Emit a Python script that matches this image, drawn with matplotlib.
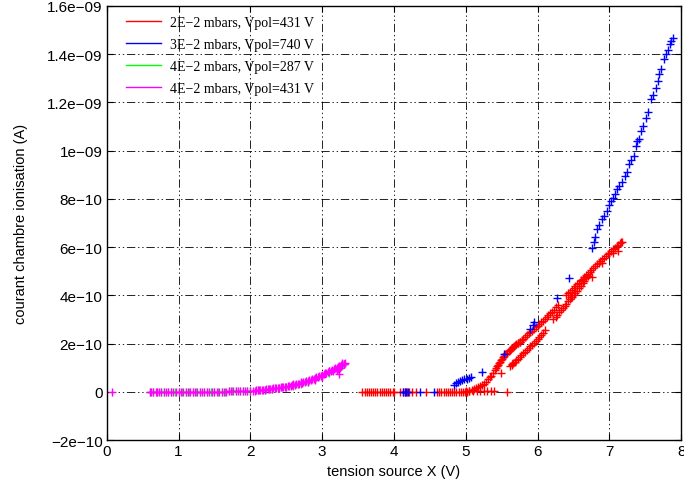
import matplotlib
matplotlib.use("Agg")
import matplotlib.pyplot as plt
from matplotlib.lines import Line2D
from matplotlib.ticker import FixedLocator, FixedFormatter

from matplotlib import rcParams
rcParams['font.family'] = 'Liberation Sans'
rcParams['lines.scale_dashes'] = False

SCALE = 1e-10  # values below are in units of 1e-10 A

# 2E-2 mbars, Vpol=431 V
red_x = [3.56, 3.59, 3.62, 3.65, 3.68, 3.71, 3.74, 3.77, 3.8, 3.83, 3.86, 3.89, 3.92, 3.95, 3.98, 4.0,
         4.09, 4.12, 4.15, 4.18, 4.21, 4.25, 4.3, 4.44,
         4.6, 4.63, 4.66, 4.69, 4.72, 4.75, 4.78, 4.81, 4.84, 4.87, 4.9, 4.93, 4.96, 4.99, 5.02, 5.05,
         5.1, 5.15, 5.2, 5.25, 5.3, 5.35, 5.39, 5.58,
         5.0, 5.04, 5.08, 5.11, 5.14, 5.17, 5.2, 5.23, 5.25, 5.28, 5.31, 5.33, 5.35, 5.38, 5.4, 5.42,
         5.45, 5.47, 5.49, 5.52, 5.55, 5.58, 5.61, 5.64, 5.67, 5.7, 5.73, 5.76,
         5.43, 5.46, 5.5, 5.53, 5.56, 5.6, 5.63, 5.66, 5.69, 5.72, 5.75, 5.78,
         5.8, 5.85, 5.9, 5.95, 6.0, 6.05, 6.1, 6.15, 6.2, 6.25, 6.29,
         5.825, 5.875, 5.925, 5.975, 6.025, 6.075, 6.125, 6.175, 6.225,
         6.4, 6.45, 6.5, 6.55, 6.6, 6.65, 6.7, 6.75, 6.8, 6.85, 6.9, 6.95, 7.0, 7.05, 7.1, 7.15, 7.18,
         6.425, 6.475, 6.525, 6.575, 6.625, 6.675, 6.725, 6.775, 6.825, 6.875, 6.925, 6.975, 7.025,
         7.075, 7.125, 7.16,
         5.62, 5.66, 5.7, 5.75, 5.8, 5.85, 5.9, 5.95, 6.0, 6.05, 6.1, 6.22, 6.25, 6.3, 6.35, 6.4,
         6.45, 6.5, 6.55, 6.6, 6.65, 6.7,
         5.64, 5.68, 5.725, 5.775, 5.825, 5.875, 5.925, 5.975, 6.025, 6.075, 6.275, 6.325, 6.375,
         6.425, 6.475, 6.525, 6.575, 6.625, 6.675,
         5.49, 5.64, 6.6, 6.76, 6.47, 6.9, 7.05, 7.12]
red_y = [0] * 16 + [0] * 8 + [0, 0, 0, 0, 0, 0, 0, 0, 0, 0, 0, 0, 0, 0.01, 0.01, 0.02,
         0.02, 0.02, 0.02, 0.02, 0.02, 0.02, 0.02, 0.0] + \
        [0.03, 0.05, 0.08, 0.11, 0.15, 0.2, 0.25, 0.3, 0.33, 0.42, 0.52, 0.6, 0.66, 0.8, 0.9, 1.0,
         1.13, 1.25, 1.33, 1.45, 1.55, 1.63, 1.72, 1.82, 1.9, 1.98, 2.03, 2.08,
         1.05, 1.19, 1.38, 1.5, 1.58, 1.69, 1.78, 1.87, 1.95, 2.01, 2.06, 2.14,
         2.2, 2.35, 2.48, 2.6, 2.73, 2.88, 3.02, 3.17, 3.32, 3.5, 3.62,
         2.28, 2.42, 2.54, 2.67, 2.8, 2.95, 3.1, 3.25, 3.41,
         4.0, 4.15, 4.3, 4.45, 4.6, 4.75, 4.9, 5.05, 5.2, 5.35, 5.5, 5.63, 5.77, 5.9, 6.03, 6.15, 6.22,
         4.08, 4.22, 4.38, 4.53, 4.68, 4.83, 4.98, 5.12, 5.28, 5.42, 5.56, 5.7, 5.84,
         5.96, 6.09, 6.2,
         1.08, 1.2, 1.3, 1.45, 1.6, 1.74, 1.88, 2.03, 2.18, 2.36, 2.55, 3.0, 3.11, 3.29, 3.47, 3.65,
         3.84, 4.02, 4.2, 4.4, 4.6, 4.8,
         1.14, 1.25, 1.38, 1.52, 1.67, 1.81, 1.95, 2.1, 2.27, 2.45, 3.2, 3.38, 3.56,
         3.75, 3.93, 4.11, 4.3, 4.5, 4.7,
         0.8, 1.1, 4.62, 4.78, 3.95, 5.35, 5.75, 5.85]

# 3E-2 mbars, Vpol=740 V
blue_x = [4.13, 4.15, 4.17, 4.19, 4.36, 4.56,
          4.83, 4.86, 4.89, 4.92, 4.95, 4.98, 5.01, 5.04, 5.07, 5.22, 5.53,
          5.9, 5.93, 5.95, 6.27, 6.43,
          6.76, 6.78, 6.8, 6.83, 6.86, 6.9, 6.93, 6.97, 7.0, 7.02, 7.05, 7.08, 7.11, 7.14, 7.17,
          7.21, 7.24, 7.27, 7.3, 7.34, 7.37, 7.39, 7.41, 7.44, 7.47, 7.51, 7.54, 7.58, 7.61, 7.65,
          7.67, 7.69, 7.72, 7.76, 7.79, 7.81, 7.84, 7.86, 7.88]
blue_y = [0, 0, 0, 0, 0, 0,
          0.3, 0.35, 0.4, 0.44, 0.48, 0.52, 0.55, 0.58, 0.62, 0.84, 1.56,
          2.6, 2.75, 2.9, 3.88, 4.71,
          5.98, 6.2, 6.4, 6.74, 6.9, 7.15, 7.29, 7.5, 7.75, 7.91, 8.05, 8.2, 8.39, 8.55, 8.7,
          8.94, 9.1, 9.43, 9.6, 9.77, 10.19, 10.39, 10.5, 10.81, 11.0, 11.36, 11.6, 12.12, 12.3, 12.6,
          12.9, 13.16, 13.4, 13.78, 14.0, 14.19, 14.4, 14.55, 14.67]

# 4E-2 mbars, Vpol=287 V
green_x = [0.6, 0.65, 0.7, 0.75, 0.8, 0.85, 0.9, 0.95, 1.0, 1.05, 1.1, 1.15, 1.2, 1.25, 1.3, 1.35,
           1.4, 1.45, 1.5, 1.55, 1.6, 1.65, 1.7, 1.75, 1.8, 1.85, 1.9, 1.95, 2.0,
           2.1, 2.2, 2.3, 2.4, 2.5, 2.6, 2.7, 2.8, 2.9, 3.0, 3.1, 3.2, 3.28, 3.31]
green_y = [0] * 19 + [0.01, 0.01, 0.01, 0.02, 0.02, 0.02, 0.03, 0.03, 0.03, 0.04,
           0.06, 0.08, 0.11, 0.15, 0.2, 0.26, 0.33, 0.42, 0.52, 0.64, 0.78, 0.92, 1.08, 1.14]

# 4E-2 mbars, Vpol=431 V
mag_x = [0.08,
         0.6, 0.62, 0.65, 0.68, 0.7, 0.73, 0.76, 0.8, 0.83, 0.86, 0.9, 0.93, 0.96, 1.0, 1.03, 1.06,
         1.1, 1.13, 1.16, 1.2, 1.23, 1.26, 1.3, 1.33, 1.36, 1.4, 1.43, 1.46, 1.5, 1.53, 1.56, 1.6,
         1.63, 1.66, 1.7, 1.73, 1.76, 1.8, 1.83, 1.86, 1.9, 1.93, 1.96, 2.0,
         2.04, 2.08, 2.12, 2.16, 2.2, 2.24, 2.28, 2.32, 2.36, 2.4, 2.44, 2.48, 2.52, 2.56, 2.6, 2.64,
         2.68, 2.72, 2.76, 2.8, 2.84, 2.88, 2.92, 2.96, 3.0, 3.04, 3.08, 3.12, 3.16, 3.2, 3.24, 3.28,
         3.32,
         2.06, 2.1, 2.14, 2.18, 2.22, 2.26, 2.3, 2.34, 2.38, 2.42, 2.46, 2.5, 2.54, 2.58, 2.62, 2.66,
         2.7, 2.74, 2.78, 2.82, 2.86, 2.9, 2.94, 2.98, 3.02, 3.06, 3.1, 3.14, 3.18, 3.22, 3.26, 3.3,
         2.6, 2.7, 2.8, 2.9, 3.0, 3.1, 3.15, 3.2, 3.22, 3.23, 3.25, 3.28, 3.3]
mag_y = [0] + [0] * 31 + [0.01, 0.01, 0.01, 0.02, 0.02, 0.02, 0.02, 0.03, 0.03, 0.03, 0.04, 0.04, 0.04] + \
        [0.05, 0.06, 0.07, 0.08, 0.09, 0.11, 0.12, 0.14, 0.15, 0.17, 0.19, 0.21, 0.23, 0.26, 0.28, 0.31,
         0.34, 0.38, 0.42, 0.46, 0.5, 0.55, 0.6, 0.65, 0.7, 0.76, 0.82, 0.88, 0.94, 1.0, 1.07, 1.14,
         1.2,
         0.055, 0.065, 0.075, 0.085, 0.1, 0.115, 0.13, 0.145, 0.16, 0.18, 0.2, 0.22, 0.245, 0.27, 0.295,
         0.325, 0.36, 0.4, 0.44, 0.48, 0.525, 0.575, 0.625, 0.675, 0.73, 0.79, 0.85, 0.91, 0.97, 1.035,
         1.1, 1.17,
         0.31, 0.4, 0.42, 0.5, 0.62, 0.88, 0.85, 0.92, 0.95, 0.73, 1.0, 1.18, 1.15]

labels = ["2E\u22122 mbars, Vpol=431 V", "3E\u22122 mbars, Vpol=740 V",
          "4E\u22122 mbars, Vpol=287 V", "4E\u22122 mbars, Vpol=431 V"]
colors = ["#ff0000", "#0000ff", "#00ff00", "#ff00ff"]

yticks = [-2, 0, 2, 4, 6, 8, 10, 12, 14, 16]
ytick_labels = ["\u22122e\u221210", "0", "2e\u221210", "4e\u221210", "6e\u221210", "8e\u221210",
                "1e\u221209", "1.2e\u221209", "1.4e\u221209", "1.6e\u221209"]
xticks = [0, 1, 2, 3, 4, 5, 6, 7, 8]


def main():
    fig = plt.figure(figsize=(6.84, 4.89), dpi=100)
    ax = fig.add_axes([0.156, 0.098, 0.84, 0.888])

    series = [(red_x, red_y), (blue_x, blue_y), (green_x, green_y), (mag_x, mag_y)]
    for (xs, ys), c in zip(series, colors):
        ax.plot(xs, [v * SCALE for v in ys], linestyle="none", marker="+",
                markersize=5.5, markeredgewidth=1.0, color=c)

    ax.set_xlim(0, 8)
    ax.set_ylim(-2 * SCALE, 16 * SCALE)
    ax.xaxis.set_major_locator(FixedLocator(xticks))
    ax.yaxis.set_major_locator(FixedLocator([t * SCALE for t in yticks]))
    ax.yaxis.set_major_formatter(FixedFormatter(ytick_labels))

    ax.grid(True, color="black", linewidth=0.6, linestyle=(0, (6, 2, 1, 2, 1, 2)))
    ax.tick_params(axis="both", which="both", direction="in", labelsize=11, pad=3,
                   top=True, right=True, length=4)
    for s in ax.spines.values():
        s.set_linewidth(1.0)

    ax.set_xlabel("tension source X (V)", fontsize=10.5, labelpad=4)
    ax.set_ylabel("courant chambre ionisation (A)", fontsize=10.5, labelpad=14)

    handles = [Line2D([], [], color=c, linewidth=1.0) for c in colors]
    ax.legend(handles, labels, loc="upper left", frameon=False,
              bbox_to_anchor=(0.034, 0.977),
              prop={"family": "Liberation Serif", "size": 10},
              handlelength=2.5, handletextpad=0.65, labelspacing=0.66,
              borderaxespad=0.0, borderpad=0.0)

    fig.savefig("out.png", dpi=100)


if __name__ == "__main__":
    main()
